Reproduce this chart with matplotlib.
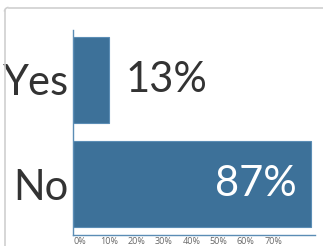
import matplotlib.pyplot as plt
from matplotlib.lines import Line2D
from matplotlib.patches import Arc

# datos
respuestas = ['Yes', 'No']
porcentajes = [0.13, 0.87]
etiquetas_x = ['0%', '10%', '20%', '30%', '40%', '50%', '60%', '70%']
ticks_x = [0, 0.1, 0.2, 0.3, 0.4, 0.5, 0.6, 0.7]

azul = '#3d7199'
plt.rcParams['font.family'] = ['Lato', 'DejaVu Sans']

fig = plt.figure(figsize=(3.23, 2.46), dpi=100)

# marco de la tarjeta (solo lado izquierdo y superior)
W, H = 323, 246
gris = '#cfcfcf'
fig.add_artist(Line2D([4.5 / W, 4.5 / W], [0, (H - 11) / H], color=gris, lw=1.2,
                      transform=fig.transFigure))
fig.add_artist(Line2D([8.5 / W, 1], [(H - 7.5) / H] * 2, color=gris, lw=1.2,
                      transform=fig.transFigure))
fig.add_artist(Arc((8.5 / W, (H - 11.5) / H), 8 / W, 8 / H, theta1=90, theta2=180,
                   color=gris, lw=1.2, transform=fig.transFigure))

ax = fig.add_axes([73 / W, 11 / H, 242 / W, 205 / H])
ax.barh(range(len(respuestas)), porcentajes, height=0.83, color=azul,
        edgecolor='#5b8db5', linewidth=0.8)
ax.set_xlim(0, 0.886)
ax.set_ylim(1.49, -0.48)

ax.set_yticks(range(len(respuestas)))
ax.set_yticklabels(respuestas, fontsize=30, color='#333333')
ax.tick_params(axis='y', length=0, pad=3)

ax.set_xticks(ticks_x)
ax.set_xticklabels(etiquetas_x, fontsize=6.5, color='#666666', ha='left',
                   family=['Open Sans', 'DejaVu Sans'])
ax.tick_params(axis='x', length=0, pad=1.5)

for s in ['top', 'right']:
    ax.spines[s].set_visible(False)
for s in ['left', 'bottom']:
    ax.spines[s].set_color('#5b8db5')
    ax.spines[s].set_linewidth(1)

# etiquetas de valor
ax.text(porcentajes[0] + 0.062, 0, '13%', va='center', ha='left',
        fontsize=30, color='#333333')
ax.text(porcentajes[1] - 0.05, 1, '87%', va='center', ha='right',
        fontsize=30, color='white')

fig.savefig('out.png', dpi=100)
